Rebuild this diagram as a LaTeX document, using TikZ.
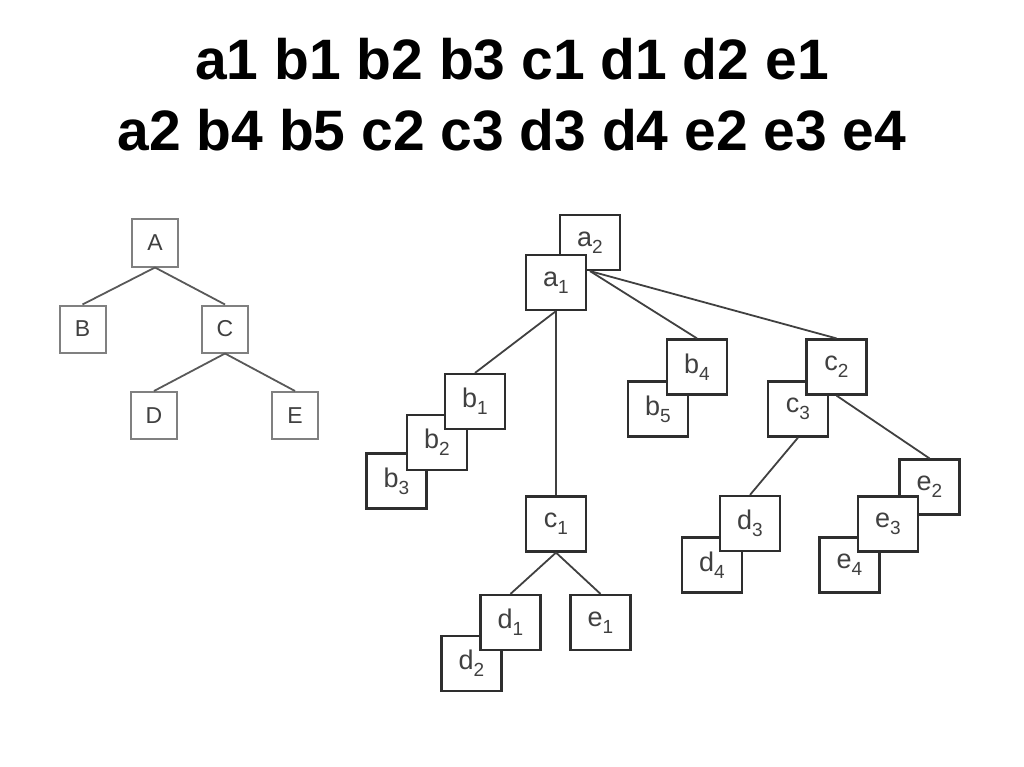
\documentclass[tikz,border=0pt]{standalone}
\usepackage{fontspec}
\setmainfont{Liberation Sans}
\begin{document}
\begin{tikzpicture}[x=1pt,y=-1pt,
  bx/.style={draw=black!82,line width=2.2pt,fill=white,minimum width=60pt,minimum height=55pt,inner sep=0pt,font=\fontsize{27}{27}\selectfont,text=black!75},
  lb/.style={draw=black!50,line width=2pt,fill=white,minimum width=46pt,minimum height=47pt,inner sep=0pt,font=\fontsize{23}{23}\selectfont,text=black!75},
  ed/.style={draw=black!75,line width=1.8pt},
  led/.style={draw=black!65,line width=1.8pt},
  ttl/.style={anchor=base,font=\fontsize{57}{57}\selectfont\bfseries,inner sep=0pt}]
\newcommand{\lab}[2]{#1\raisebox{-7pt}{\fontsize{19}{19}\selectfont #2}}
\useasboundingbox (0,0) rectangle (1024,767);
% title
\node[ttl] (t1) at (512,80) {a1 b1 b2 b3 c1 d1 d2 e1};
\node[ttl] (t2) at (512,150.5) {a2 b4 b5 c2 c3 d3 d4 e2 e3 e4};
% left tree
\node[lb] (A) at (155,243) {A};
\node[lb] (B) at (82.5,329) {B};
\node[lb] (C) at (225,329) {C};
\node[lb] (D) at (154,415.5) {D};
\node[lb] (E) at (295,415.5) {E};
\draw[led] (A.south) -- (B.north);
\draw[led] (A.south) -- (C.north);
\draw[led] (C.south) -- (D.north);
\draw[led] (C.south) -- (E.north);
% right tree
\node[bx] (a2) at (590,242.5) {\lab{a}{2}};
\node[bx] (a1) at (556,282.5) {\lab{a}{1}};
\node[bx] (b3) at (396.5,481) {\lab{b}{3}};
\node[bx] (b2) at (437,442.5) {\lab{b}{2}};
\node[bx] (b1) at (475,401.5) {\lab{b}{1}};
\node[bx] (b5) at (658,409) {\lab{b}{5}};
\node[bx] (b4) at (697,367) {\lab{b}{4}};
\node[bx] (c3) at (798,409) {\lab{c}{3}};
\node[bx] (c2) at (836.5,367) {\lab{c}{2}};
\node[bx] (d4) at (712,565) {\lab{d}{4}};
\node[bx] (d3) at (750,523.5) {\lab{d}{3}};
\node[bx] (e2) at (929.5,487) {\lab{e}{2}};
\node[bx] (e4) at (849.5,565) {\lab{e}{4}};
\node[bx] (e3) at (888,524) {\lab{e}{3}};
\node[bx] (c1) at (556,524) {\lab{c}{1}};
\node[bx] (d2) at (471.5,663.5) {\lab{d}{2}};
\node[bx] (d1) at (510.5,622.5) {\lab{d}{1}};
\node[bx] (e1) at (600.5,622.5) {\lab{e}{1}};
\draw[ed] (a1.south) -- (b1.north);
\draw[ed] (a1.south) -- (c1.north);
\draw[ed] (a2.south) -- (b4.north);
\draw[ed] (a2.south) -- (c2.north);
\draw[ed] (c3.south) -- (d3.north);
\draw[ed] (c2.south) -- (e2.north);
\draw[ed] (c1.south) -- (d1.north);
\draw[ed] (c1.south) -- (e1.north);
\end{tikzpicture}
\end{document}
